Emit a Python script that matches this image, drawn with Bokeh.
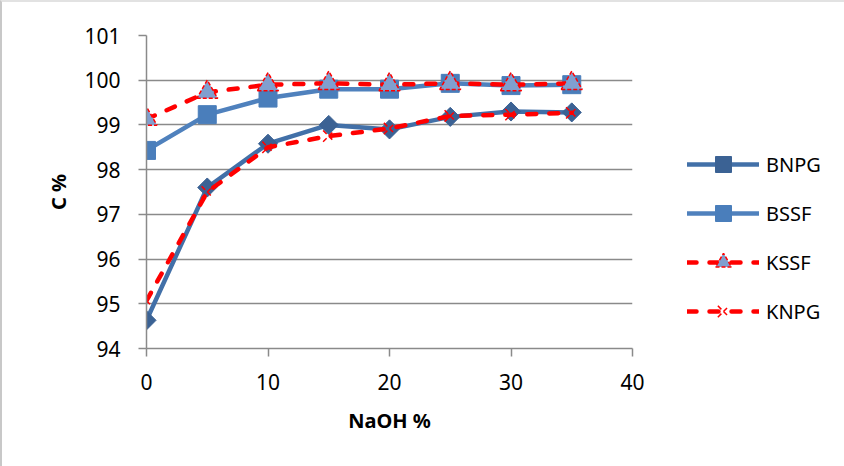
import numpy as np
from bokeh.plotting import figure
from bokeh.layouts import row
from bokeh.models import Legend, LegendItem, Range1d, FixedTicker
from bokeh.embed import file_html
from bokeh.resources import INLINE

naoh = [0, 5, 10, 15, 20, 25, 30, 35]
bnpg = [94.63, 97.6, 98.58, 99.0, 98.9, 99.18, 99.3, 99.28]
bssf = [98.43, 99.23, 99.6, 99.8, 99.8, 99.93, 99.88, 99.9]
kssf = [99.13, 99.73, 99.9, 99.93, 99.9, 99.93, 99.9, 99.93]
knpg = [95.07, 97.5, 98.5, 98.75, 98.92, 99.2, 99.23, 99.27]
x_ticks = [0, 10, 20, 30, 40]
y_ticks = [94, 95, 96, 97, 98, 99, 100, 101]
series_names = ["BNPG", "BSSF", "KSSF", "KNPG"]

FONT = "Noto Sans"
DASH = "9 13"

p = figure(width=648, height=464, output_backend="svg", toolbar_location=None,
           x_range=Range1d(0, 40), y_range=Range1d(94, 101),
           min_border_left=144, min_border_right=18, min_border_top=33, min_border_bottom=118)
p.outline_line_color = None
p.background_fill_color = "white"
p.border_fill_color = "white"

p.xgrid.visible = False
p.ygrid.grid_line_color = "#8a8a8a"
p.ygrid.grid_line_width = 1.5

for ax in (p.xaxis, p.yaxis):
    ax.axis_line_color = "#8a8a8a"
    ax.axis_line_width = 1.5
    ax.major_tick_line_color = "#8a8a8a"
    ax.major_tick_line_width = 1.5
    ax.major_tick_out = 8
    ax.major_tick_in = 0
    ax.minor_tick_line_color = None
    ax.major_label_text_font = FONT
    ax.major_label_text_font_size = "21px"
    ax.major_label_text_color = "#000000"
    ax.axis_label_text_font = FONT
    ax.axis_label_text_font_size = "20px"
    ax.axis_label_text_font_style = "bold"
    ax.axis_label_text_color = "#000000"

p.xaxis.ticker = FixedTicker(ticks=x_ticks)
p.yaxis.ticker = FixedTicker(ticks=y_ticks)
p.xaxis.major_label_standoff = 17
p.yaxis.major_label_standoff = 18
p.xaxis.axis_label = "NaOH %"
p.yaxis.axis_label = "C %"
p.xaxis.axis_label_standoff = 14
p.yaxis.axis_label_standoff = 9


def draw(fig, visible=True):
    l1 = fig.line(naoh, bnpg, line_color="#4270a8", line_width=4.5, line_join="round",
                  line_cap="round", visible=visible)
    m1 = fig.scatter(naoh, bnpg, marker="square", angle=np.pi / 4, size=13.5,
                     fill_color="#3b6294", line_color="#3b6294", visible=visible)
    l2 = fig.line(naoh, bssf, line_color="#4f81bd", line_width=4.5, line_join="round",
                  line_cap="round", visible=visible)
    m2 = fig.scatter(naoh, bssf, marker="square", size=18, fill_color="#4a7ebb",
                     line_color="#4a7ebb", visible=visible)
    l3 = fig.line(naoh, kssf, line_color="#ff0000", line_width=4.5, line_dash=DASH,
                  line_cap="round", visible=visible)
    m3 = fig.scatter(naoh, kssf, marker="triangle", size=21, fill_color="#809fcf",
                     line_color="#ff0000", line_width=1.5, line_dash="4 2", visible=visible)
    l4 = fig.line(naoh, knpg, line_color="#ff0000", line_width=4.5, line_dash=DASH,
                  line_cap="round", visible=visible)
    m4 = fig.scatter(naoh, knpg, marker="x", size=16, line_color="#ff0000", line_width=1.5,
                     line_dash="5 3", visible=visible)
    return [[l1, m1], [l2, m2], [l3, m3], [l4, m4]]


draw(p)

# legend panel
p2 = figure(width=194, height=464, output_backend="svg", toolbar_location=None,
            x_range=Range1d(0, 1), y_range=Range1d(0, 1),
            x_axis_type=None, y_axis_type=None,
            min_border_left=0, min_border_right=0, min_border_top=0, min_border_bottom=0)
p2.outline_line_color = None
p2.xgrid.visible = False
p2.ygrid.visible = False
p2.background_fill_color = "white"
p2.border_fill_color = "white"
rends = draw(p2, visible=False)

legend = Legend(items=[LegendItem(label=n, renderers=r) for n, r in zip(series_names, rends)],
                location=(37, 17), glyph_width=72, glyph_height=40, spacing=9,
                padding=0, margin=0, label_standoff=7, label_text_font=FONT,
                label_text_font_size="20px", label_text_color="#000000",
                border_line_color=None, background_fill_alpha=0)
p2.add_layout(legend, "center")

layout = row(p, p2)
layout.styles = {"border-left": "2px solid #c8c8c8", "border-top": "2px solid #e2e2e2"}

open("out.html", "w").write(file_html(layout, INLINE))
